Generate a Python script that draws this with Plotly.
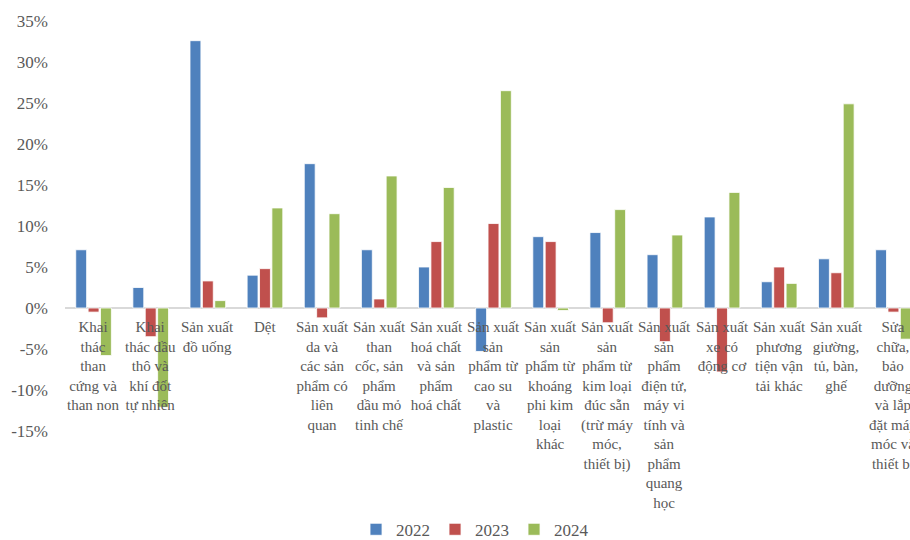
import plotly.graph_objects as go

# Industry groups (Vietnamese labels, wrapped as drawn under the zero line)
categories = [
    "Khai<br>thác<br>than<br>cứng và<br>than non",
    "Khai<br>thác dầu<br>thô và<br>khí đốt<br>tự nhiên",
    "Sản xuất<br>đồ uống",
    "Dệt",
    "Sản xuất<br>da và<br>các sản<br>phẩm có<br>liên<br>quan",
    "Sản xuất<br>than<br>cốc, sản<br>phẩm<br>dầu mỏ<br>tinh chế",
    "Sản xuất<br>hoá chất<br>và sản<br>phẩm<br>hoá chất",
    "Sản xuất<br>sản<br>phẩm từ<br>cao su<br>và<br>plastic",
    "Sản xuất<br>sản<br>phẩm từ<br>khoáng<br>phi kim<br>loại<br>khác",
    "Sản xuất<br>sản<br>phẩm từ<br>kim loại<br>đúc sẵn<br>(trừ máy<br>móc,<br>thiết bị)",
    "Sản xuất<br>sản<br>phẩm<br>điện tử,<br>máy vi<br>tính và<br>sản<br>phẩm<br>quang<br>học",
    "Sản xuất<br>xe có<br>động cơ",
    "Sản xuất<br>phương<br>tiện vận<br>tải khác",
    "Sản xuất<br>giường,<br>tủ, bàn,<br>ghế",
    "Sửa<br>chữa,<br>bảo<br>dưỡng<br>và lắp<br>đặt máy<br>móc và<br>thiết bị",
]

# Growth rates (fractions)
values_2022 = [0.071, 0.025, 0.326, 0.040, 0.176, 0.071, 0.050, -0.053, 0.087, 0.092, 0.065, 0.111, 0.032, 0.060, 0.071]
values_2023 = [-0.005, -0.035, 0.033, 0.048, -0.012, 0.011, 0.081, 0.103, 0.081, -0.018, -0.041, -0.078, 0.050, 0.043, -0.005]
values_2024 = [-0.058, -0.121, 0.009, 0.122, 0.115, 0.161, 0.147, 0.265, -0.003, 0.120, 0.089, 0.141, 0.030, 0.249, -0.038]

series_names = ["2022", "2023", "2024"]
series_colors = ["#4F81BD", "#C0504D", "#9BBB59"]

y_tick_values = [-0.15, -0.10, -0.05, 0.0, 0.05, 0.10, 0.15, 0.20, 0.25, 0.30, 0.35]
y_tick_labels = ["-15%", "-10%", "-5%", "0%", "5%", "10%", "15%", "20%", "25%", "30%", "35%"]

FONT = "Liberation Serif"
TEXT_COLOR = "#595959"

x_pos = list(range(len(categories)))

fig = go.Figure()
for name, vals, color in zip(series_names, [values_2022, values_2023, values_2024], series_colors):
    fig.add_trace(go.Bar(
        x=x_pos, y=vals, name=name,
        marker=dict(color=color, line=dict(color="white", width=0.8)),
    ))

# category labels hang just below the zero line
for i, label in enumerate(categories):
    fig.add_annotation(
        x=i, y=0, xref="x", yref="y", text=label, showarrow=False,
        yanchor="top", xanchor="center", align="center", yshift=-9,
        font=dict(family=FONT, size=15, color=TEXT_COLOR),
    )

fig.update_layout(
    width=910, height=540,
    margin=dict(l=65, r=0, t=21, b=109, autoexpand=False),
    paper_bgcolor="white", plot_bgcolor="white",
    barmode="group", bargap=0.35, bargroupgap=0.12,
    font=dict(family=FONT, size=16, color=TEXT_COLOR),
    showlegend=True,
    legend=dict(
        orientation="h", xref="container", yref="container",
        x=0.522, xanchor="center", y=0.019, yanchor="middle",
        font=dict(family=FONT, size=17, color=TEXT_COLOR),
        itemwidth=30, traceorder="normal",
    ),
)
fig.update_xaxes(
    range=[-0.5, 14.29], showticklabels=False, showgrid=False,
    zeroline=False, showline=False, tickvals=x_pos,
)
fig.update_yaxes(
    range=[-0.15, 0.35], tickvals=y_tick_values, ticktext=y_tick_labels,
    showgrid=False, zeroline=True, zerolinecolor="#d9d9d9", zerolinewidth=2,
    showline=False, ticklabelstandoff=16,
    tickfont=dict(family=FONT, size=17, color=TEXT_COLOR),
)

fig.write_html("out.html")
